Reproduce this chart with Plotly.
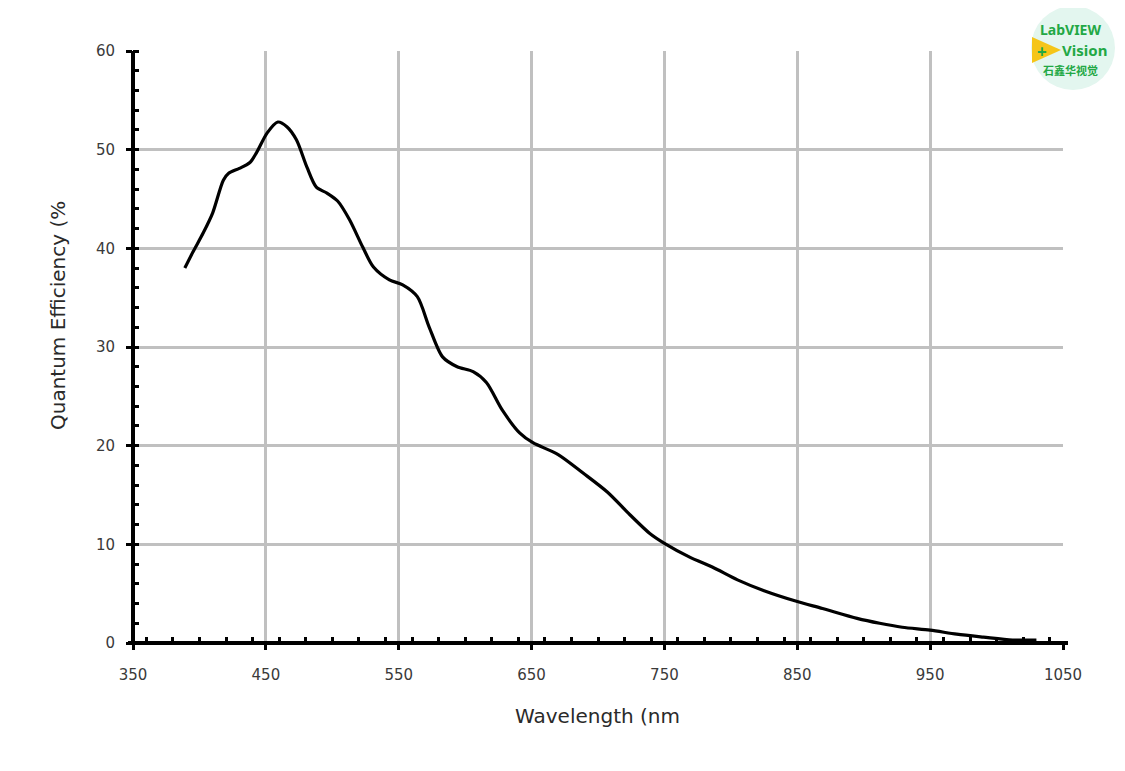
import plotly.graph_objects as go

# Data
wavelength_nm = [389, 395, 403, 410, 418, 422, 430, 438, 443, 451, 459, 466, 473, 481, 488,
                 496, 504, 513, 523, 531, 543, 553, 564, 573, 583, 594, 606, 616, 628, 641,
                 651, 670, 689, 707, 724, 739, 750, 769, 786, 805, 825, 850, 869, 895, 912,
                 929, 950, 970, 990, 1012, 1030]
qe_percent = [38.0, 39.6, 41.6, 43.6, 46.9, 47.6, 48.1, 48.7, 49.7, 51.7, 52.8, 52.3, 51.0, 48.2, 46.2,
              45.6, 44.8, 42.9, 40.1, 38.1, 36.8, 36.3, 35.1, 32.0, 29.0, 28.0, 27.5, 26.4, 23.6, 21.3,
              20.3, 19.1, 17.2, 15.3, 13.0, 11.1, 10.1, 8.7, 7.7, 6.4, 5.3, 4.2, 3.5, 2.5, 2.0,
              1.6, 1.3, 0.9, 0.6, 0.3, 0.3]

x_ticks = [350, 450, 550, 650, 750, 850, 950, 1050]
y_ticks = [0, 10, 20, 30, 40, 50, 60]
x_title = "Wavelength (nm"
y_title = "Quantum Efficiency (%"

OFF = 8  # default page body margin
W, H = 1125 - OFF, 771 - OFF
L, R, T, B = 133, 1063, 51, 643  # plot area in page pixels


def px(xp):
    return (xp - L) / (R - L)


def py(yp):
    return (B - yp) / (B - T)


fig = go.Figure()
fig.add_trace(go.Scatter(
    x=wavelength_nm, y=qe_percent, mode="lines",
    line=dict(color="black", width=3.2, shape="spline", smoothing=0.8),
    hoverinfo="skip", showlegend=False, cliponaxis=False,
))

tick_font = dict(family="DejaVu Sans", size=15, color="#3a3a3a")

fig.update_layout(
    width=W, height=H,
    margin=dict(l=L - OFF, r=W - (R - OFF), t=T - OFF, b=H - (B - OFF), pad=0),
    paper_bgcolor="white", plot_bgcolor="white",
    xaxis=dict(
        range=[350, 1050], tickvals=x_ticks, ticktext=[str(v) for v in x_ticks],
        showgrid=True, gridcolor="#c0c0c0", gridwidth=3,
        zeroline=False, showline=False,
        ticks="outside", ticklen=6, tickwidth=3, tickcolor="black",
        tickfont=tick_font, ticklabelstandoff=12,
        minor=dict(dtick=20, ticks="inside", ticklen=6, tickwidth=3, tickcolor="black", showgrid=False),
    ),
    yaxis=dict(
        range=[0, 60], tickvals=y_ticks, ticktext=[str(v) for v in y_ticks],
        showgrid=True, gridcolor="#c0c0c0", gridwidth=3,
        zeroline=False, showline=False,
        ticks="outside", ticklen=6, tickwidth=3, tickcolor="black",
        tickfont=tick_font, ticklabelstandoff=8,
        minor=dict(dtick=2, ticks="inside", ticklen=6, tickwidth=3, tickcolor="black", showgrid=False),
    ),
)

# axis lines
fig.add_shape(type="line", xref="paper", yref="paper", x0=px(128), x1=px(1068), y0=0, y1=0,
              line=dict(color="black", width=4), layer="above")
fig.add_shape(type="line", xref="paper", yref="paper", x0=0, x1=0, y0=0, y1=1,
              line=dict(color="black", width=4), layer="above")


def label(text, xp, yp, size, family="DejaVu Sans", color="#2a2a2a", angle=0, xanchor="center"):
    fig.add_annotation(text=text, xref="paper", yref="paper", x=px(xp), y=py(yp),
                       xanchor=xanchor, yanchor="middle", textangle=angle, showarrow=False,
                       borderpad=0, font=dict(family=family, size=size, color=color))


# axis titles
label(x_title, 597, 716, 20)
label(y_title, 58, 316, 20, angle=-90)

# logo
fig.add_shape(type="circle", xref="paper", yref="paper",
              x0=px(1031), x1=px(1115), y0=py(6), y1=py(90),
              fillcolor="#e3f6ef", line=dict(width=0), layer="above")
fig.add_shape(type="path", xref="paper", yref="paper",
              path=f"M {px(1032)} {py(37)} L {px(1061)} {py(50)} L {px(1032)} {py(63)} Z",
              fillcolor="#f5c518", line=dict(width=0), layer="above")
green = "#22a845"
label("<b>LabVIEW</b>", 1070, 30, 14, family="Noto Sans", color=green)
label("<b>+</b>", 1042, 51, 17, family="Noto Sans", color=green)
label("<b>Vision</b>", 1061, 50, 15, family="Noto Sans", color=green, xanchor="left")
label("<b>石鑫华视觉</b>", 1070, 70, 11, family="Noto Sans CJK SC", color=green)

fig.write_html("out.html")
